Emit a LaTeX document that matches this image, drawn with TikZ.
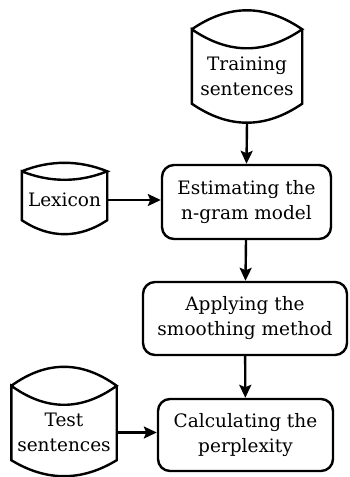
\documentclass[tikz,border=0pt]{standalone}
\usepackage{fontspec}
\setmainfont{DejaVu Serif}
\usepackage{tikz}
\usetikzlibrary{arrows.meta}

\newcommand{\drum}[4]{%
  \draw[line width=2.4pt]
    ([yshift=#3pt]#1.north west) .. controls +(#2pt,1.333*#3pt) and +(-#2pt,1.333*#3pt) .. ([yshift=#3pt]#1.north east)
    .. controls +(-#2pt,-1.333*#3pt) and +(#2pt,-1.333*#3pt) .. ([yshift=#3pt]#1.north west)
    -- (#1.south west) .. controls +(#2pt,-1.333*#4pt) and +(-#2pt,-1.333*#4pt) .. (#1.south east)
    -- ([yshift=#3pt]#1.north east);
}

\begin{document}
\begin{tikzpicture}[x=1pt,y=-1pt,
    font=\fontsize{18.5}{25}\selectfont,
    box/.style={draw,line width=2.4pt,rounded corners=12pt,align=center,inner sep=0pt},
    store/.style={align=center,inner sep=0pt},
    arr/.style={line width=2.4pt,-{Stealth[length=13pt,width=12pt,inset=2.5pt]}}]
    \useasboundingbox (0,0) rectangle (349,477);
    \node[store,minimum width=110pt,minimum height=55pt] (train) at (247,76) {Training\\sentences};
    \drum{train}{37}{19}{19}
    \coordinate (train-foot) at ([yshift=-19pt]train.south);
    \node[store,minimum width=85pt,minimum height=40pt] (lex) at (64.5,200) {Lexicon};
    \drum{lex}{28}{8.5}{14}
    \node[store,minimum width=105pt,minimum height=55pt] (test) at (64,432.5) {Test\\sentences};
    \drum{test}{35}{19}{16}
    \node[box,minimum width=169pt,minimum height=74pt] (est) at (246.5,202) {Estimating the\\n-gram model};
    \node[box,minimum width=204pt,minimum height=73pt] (app) at (245,318.5) {Applying the\\smoothing method};
    \node[box,minimum width=175pt,minimum height=72pt] (calc) at (245.5,435) {Calculating the\\perplexity};
    \draw[arr] (train-foot) -- (est.north);
    \draw[arr] (lex.east) -- (lex.east -| est.west);
    \draw[arr] (est) -- (app);
    \draw[arr] (app) -- (calc);
    \draw[arr] (test.east) -- (test.east -| calc.west);
\end{tikzpicture}
\end{document}
